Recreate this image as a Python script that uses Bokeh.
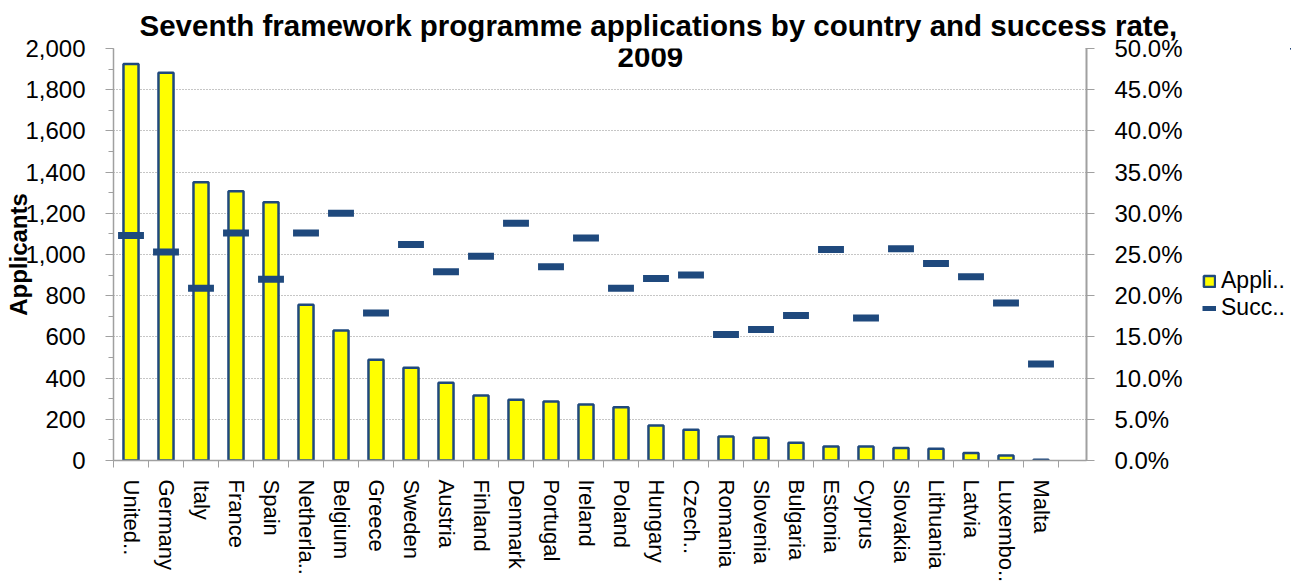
from bokeh.plotting import figure
from bokeh.layouts import row
from bokeh.models import (Range1d, LinearAxis, FixedTicker, NumeralTickFormatter,
                          PrintfTickFormatter, Legend, LegendItem, Label, ColumnDataSource)
from bokeh.embed import file_html
from bokeh.resources import INLINE

countries = ["United..", "Germany", "Italy", "France", "Spain", "Netherla..", "Belgium",
             "Greece", "Sweden", "Austria", "Finland", "Denmark", "Portugal", "Ireland",
             "Poland", "Hungary", "Czech..", "Romania", "Slovenia", "Bulgaria", "Estonia",
             "Cyprus", "Slovakia", "Lithuania", "Latvia", "Luxembo..", "Malta"]
applicants = [1925, 1882, 1351, 1307, 1254, 756, 631, 489, 450, 377, 315, 295, 286, 272,
              259, 170, 149, 116, 110, 86, 68, 68, 61, 57, 37, 24, 4]
success_rate = [27.3, 25.3, 20.9, 27.6, 22.0, 27.6, 30.0, 17.9, 26.2, 22.9, 24.8, 28.8, 23.5,
                27.0, 20.9, 22.1, 22.5, 15.3, 15.9, 17.6, 25.6, 17.3, 25.7, 23.9, 22.3, 19.1, 11.7]
left_ticks = [0, 200, 400, 600, 800, 1000, 1200, 1400, 1600, 1800, 2000]
left_minor = [0, 100, 200, 300, 400, 500, 600, 700, 800, 900, 1000, 1100, 1200, 1300, 1400,
              1500, 1600, 1700, 1800, 1900, 2000]
right_ticks = [0, 5, 10, 15, 20, 25, 30, 35, 40, 45, 50]
title_lines = ["Seventh framework programme applications by country and success rate,", "2009"]
series_names = ["Appli..", "Succ.."]

FONT = "Liberation Sans"
NAVY = "#1F497D"
GRAY = "#A0A0A0"

pos = list(range(1, len(countries) + 1))
src = ColumnDataSource(dict(
    x=pos, countries=countries, applicants=applicants, rate=success_rate,
    x0=[v - 0.37 for v in pos], x1=[v + 0.37 for v in pos],
))

p = figure(frame_width=973, frame_height=412, output_backend="svg", toolbar_location=None,
           x_range=Range1d(0.5, 28.3), y_range=Range1d(0, 2000),
           min_border_left=113, min_border_right=105, min_border_top=48, min_border_bottom=0)
p.outline_line_color = None
p.background_fill_color = "white"
p.border_fill_color = "white"
p.extra_y_ranges = {"rate": Range1d(0, 50)}

p.title.text = title_lines[0]
p.title.align = "left"
p.title.offset = 26
p.title.standoff = 13
p.title.text_font = FONT
p.title.text_font_size = "29.5px"
p.title.text_font_style = "bold"
p.title.text_color = "black"

bars = p.vbar(x="x", top="applicants", width=0.43, source=src,
              fill_color="#FFFF00", line_color=NAVY, line_width=2.5)
segs = p.segment(x0="x0", y0="rate", x1="x1", y1="rate", source=src, y_range_name="rate",
                 line_color=NAVY, line_width=7)

# x axis
xa = p.xaxis[0]
xa.ticker = FixedTicker(ticks=pos, minor_ticks=[v - 0.5 for v in pos] + [pos[-1] + 0.5])
xa.major_label_overrides = {v: c for v, c in zip(pos, countries)}
xa.major_label_orientation = "vertical"
xa.major_tick_out = 0
xa.major_tick_in = 0
xa.minor_tick_out = 7
xa.minor_tick_in = 0
xa.minor_tick_line_color = GRAY
xa.axis_line_color = GRAY
xa.axis_line_width = 1.5
xa.major_label_standoff = 12
xa.major_label_text_font = FONT
xa.major_label_text_font_size = "22px"
xa.major_label_text_color = "black"

# left axis
ya = p.yaxis[0]
ya.ticker = FixedTicker(ticks=left_ticks, minor_ticks=left_minor)
ya.formatter = NumeralTickFormatter(format="0,0")
ya.major_tick_out = 8
ya.major_tick_in = 0
ya.minor_tick_out = 5
ya.minor_tick_in = 0
ya.major_tick_line_color = GRAY
ya.minor_tick_line_color = GRAY
ya.axis_line_color = GRAY
ya.axis_line_width = 1.5
ya.major_label_standoff = 20
ya.major_label_text_font = FONT
ya.major_label_text_font_size = "24px"
ya.major_label_text_color = "black"
ya.axis_label = "Applicants"
ya.axis_label_text_font = FONT
ya.axis_label_text_font_size = "24px"
ya.axis_label_text_font_style = "bold"
ya.axis_label_text_color = "black"
ya.axis_label_standoff = -10

# right axis
ra = LinearAxis(y_range_name="rate", ticker=FixedTicker(ticks=right_ticks, minor_ticks=[]),
                formatter=PrintfTickFormatter(format="%.1f%%"))
ra.major_tick_out = 8
ra.major_tick_in = 1
ra.minor_tick_out = 0
ra.minor_tick_in = 0
ra.major_tick_line_color = GRAY
ra.axis_line_color = GRAY
ra.axis_line_width = 2
ra.major_label_standoff = 20
ra.major_label_text_font = FONT
ra.major_label_text_font_size = "24px"
ra.major_label_text_color = "black"
p.add_layout(ra, "right")

# grid
p.xgrid.grid_line_color = None
p.ygrid.ticker = FixedTicker(ticks=left_ticks[1:])
p.ygrid.grid_line_color = "#8C8C8C"
p.ygrid.grid_line_dash = "1 2"
p.ygrid.grid_line_width = 1

# second title line sits inside the plot area, as in the original
p.add_layout(Label(x=15.84, y=1961, text=title_lines[1], text_align="center", text_baseline="middle",
                   text_font=FONT, text_font_size="29.5px", text_font_style="bold", text_color="black"))

# legend strip to the right of the chart; its renderers share the data but lie outside its view
q = figure(width=100, height=582, output_backend="svg", toolbar_location=None,
           x_range=Range1d(-200, -199), y_range=Range1d(-200, -199),
           x_axis_location=None, y_axis_location=None,
           min_border_left=0, min_border_right=0, min_border_top=0, min_border_bottom=0)
q.outline_line_color = None
q.grid.visible = False
q.background_fill_color = "white"
q.border_fill_color = "white"
qb = q.vbar(x="x", top="applicants", width=0.43, source=src,
            fill_color="#FFFF00", line_color=NAVY, line_width=2.5)
qs = q.segment(x0="x0", y0="rate", x1="x1", y1="rate", source=src,
               line_color=NAVY, line_width=5)
legend = Legend(items=[LegendItem(label=series_names[0], renderers=[qb]),
                       LegendItem(label=series_names[1], renderers=[qs])],
                location=(11, 136), orientation="vertical",
                border_line_color=None, background_fill_alpha=0,
                label_text_font=FONT, label_text_font_size="23px", label_text_color="black",
                glyph_width=14, glyph_height=14, label_standoff=5, spacing=-7,
                padding=2, margin=0, label_height=20)
q.add_layout(legend)

layout = row(p, q)
open("out.html", "w").write(file_html(layout, INLINE))
